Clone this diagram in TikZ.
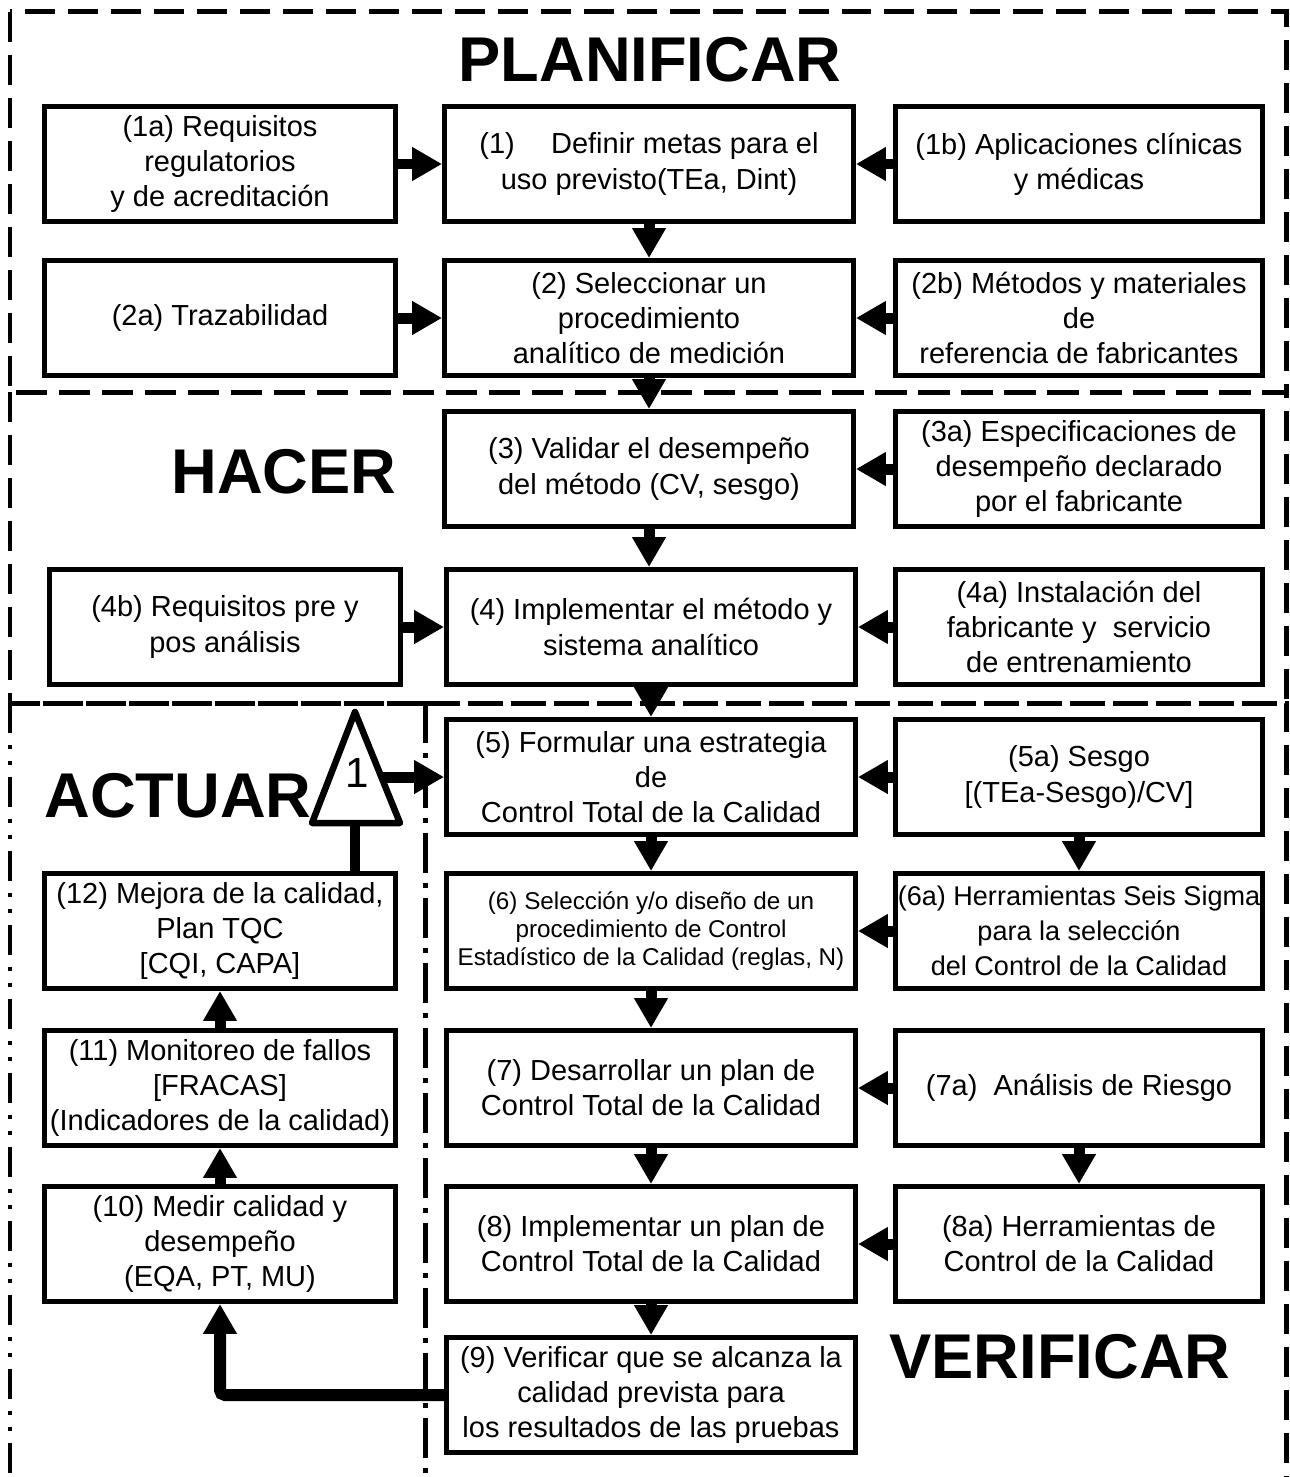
\documentclass[tikz,border=0pt]{standalone}
\usepackage{fontspec}
\setmainfont{Liberation Sans}
\usetikzlibrary{arrows.meta}

\begin{document}
\begin{tikzpicture}[x=0.02cm, y=-0.02cm,
  >={Triangle[length=0.6cm,width=0.64cm]},
  caja/.style={draw, line width=0.1cm, align=center, inner sep=2pt,
    minimum height=2.3cm, font=\fontsize{16.5}{20}\selectfont},
  izq/.style={caja, minimum width=7.02cm},
  cen/.style={caja, minimum width=8.18cm},
  der/.style={caja, minimum width=7.36cm},
  flecha/.style={->, line width=0.22cm},
  titulo/.style={font=\fontsize{36}{40}\selectfont\bfseries, inner sep=0pt},
  marco/.style={line width=0.1cm, dash pattern=on 0.6cm off 0.26cm}]
  \useasboundingbox (0,0) rectangle (1289,1477);

  % 虚线框
  \draw[marco] (10,12) rectangle (1286,392);
  \draw[marco] (10,392) rectangle (1286,703);
  \draw[marco] (425,703) -- (1286,703) -- (1286,1490);
  \draw[marco] (10,703) -- (425,703);
  \draw[line width=0.1cm, dash pattern=on 0.6cm off 0.24cm on 0.08cm off 0.24cm on 0.08cm off 0.24cm]
    (10,703) -- (10,1490);
  \draw[line width=0.1cm, dash pattern=on 0.8cm off 0.2cm on 0.1cm off 0.2cm]
    (425,703) -- (425,1490);

  % 标题
  \node[titulo] (tPlan) at (650,60) {PLANIFICAR};
  \node[titulo] (tHacer) at (284,472) {HACER};
  \node[titulo] (tActuar) at (178,796) {ACTUAR};
  \node[titulo] (tVerif) at (1060,1357) {VERIFICAR};

  % 方框
  \node[izq] (n1a) at (220,164) {(1a) Requisitos\\regulatorios\\y de acreditación};
  \node[cen] (n1) at (649,164) {(1)\hspace{1.25em}Definir metas para el\\uso previsto(TEa, Dint)};
  \node[der] (n1b) at (1079,164) {(1b) Aplicaciones clínicas\\y médicas};

  \node[izq] (n2a) at (220,318) {(2a) Trazabilidad};
  \node[cen] (n2) at (649,318) {(2) Seleccionar un\\procedimiento\\analítico de medición};
  \node[der] (n2b) at (1079,318) {(2b) Métodos y materiales\\de\\referencia de fabricantes};

  \node[cen] (n3) at (649,469) {(3) Validar el desempeño\\del método (CV, sesgo)};
  \node[der] (n3a) at (1079,469) {(3a) Especificaciones de\\desempeño declarado\\por el fabricante};

  \node[izq] (n4b) at (225,627) {(4b) Requisitos pre y\\pos análisis};
  \node[cen] (n4) at (651,627) {(4) Implementar el método y\\sistema analítico};
  \node[der] (n4a) at (1079,627) {(4a) Instalación del\\fabricante y\ \ servicio\\de entrenamiento};

  \node[cen] (n5) at (651,777) {(5) Formular una estrategia\\de\\Control Total de la Calidad};
  \node[der] (n5a) at (1079,777) {(5a) Sesgo\\{}[(TEa-Sesgo)/CV]};

  \node[izq] (n12) at (220,931) {(12) Mejora de la calidad,\\Plan TQC\\{}[CQI, CAPA]};
  \node[cen, font=\fontsize{13.8}{16}\selectfont] (n6) at (651,931) {(6) Selección y/o diseño de un\\procedimiento de Control\\Estadístico de la Calidad (reglas, N)};
  \node[der, inner sep=0pt, font=\fontsize{15.4}{20}\selectfont] (n6a) at (1079,931) {(6a) Herramientas Seis Sigma\\para la selección\\del Control de la Calidad};

  \node[izq] (n11) at (220,1088) {(11) Monitoreo de fallos\\{}[FRACAS]\\(Indicadores de la calidad)};
  \node[cen] (n7) at (651,1088) {(7) Desarrollar un plan de\\Control Total de la Calidad};
  \node[der] (n7a) at (1079,1088) {(7a)\ \ Análisis de Riesgo};

  \node[izq] (n10) at (220,1244) {(10) Medir calidad y\\desempeño\\(EQA, PT, MU)};
  \node[cen] (n8) at (651,1244) {(8) Implementar un plan de\\Control Total de la Calidad};
  \node[der] (n8a) at (1079,1244) {(8a) Herramientas de\\Control de la Calidad};

  \node[cen] (n9) at (651,1395) {(9) Verificar que se alcanza la\\calidad prevista para\\los resultados de las pruebas};

  % 三角形
  \coordinate (tA) at (355,712);
  \coordinate (tB) at (312,823);
  \coordinate (tC) at (400,823);
  \coordinate (tBase) at (355,823);
  \coordinate (tDer) at (381,777);
  \draw[line width=0.13cm, line join=round] (tA) -- (tB) -- (tC) -- cycle;
  \node[font=\fontsize{24}{24}\selectfont] (uno) at (357,773) {1};

  % 箭头
  \draw[flecha] (n1a) -- (n1);
  \draw[flecha] (n1b) -- (n1);
  \draw[flecha] (n1) -- (n2);
  \draw[flecha] (n2a) -- (n2);
  \draw[flecha] (n2b) -- (n2);
  \draw[flecha] (n2.south) -- (n3.north -| n2.south);
  \draw[flecha] (n3a) -- (n3);
  \draw[flecha] (n3.south) -- (n4.north -| n3.south);
  \draw[flecha] (n4b) -- (n4);
  \draw[flecha] (n4a) -- (n4);
  \draw[flecha] (n4) -- (n5);
  \draw[flecha] (n5a) -- (n5);
  \draw[flecha] (n5) -- (n6);
  \draw[flecha] (n5a) -- (n6a);
  \draw[flecha] (n6a) -- (n6);
  \draw[flecha] (n6) -- (n7);
  \draw[flecha] (n7a) -- (n7);
  \draw[flecha] (n7) -- (n8);
  \draw[flecha] (n7a) -- (n8a);
  \draw[flecha] (n8a) -- (n8);
  \draw[flecha] (n8) -- (n9);
  \draw[flecha] (n10) -- (n11);
  \draw[flecha] (n11) -- (n12);
  \draw[line width=0.2cm] (tBase) -- (n12.north -| tBase);
  \draw[flecha] (tDer) -- (n5.west);
  \draw[flecha, line width=0.24cm, rounded corners=0.1cm] (n9.west) -| (n10.south);
\end{tikzpicture}
\end{document}
